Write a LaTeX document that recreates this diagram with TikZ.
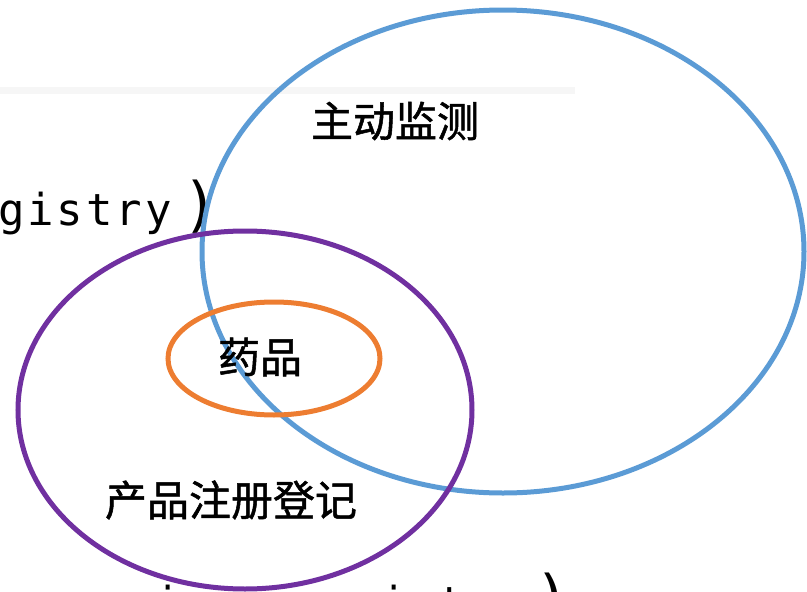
\documentclass[tikz,border=0pt]{standalone}
\usepackage{fontspec}
\usetikzlibrary{shapes.geometric}
\newfontfamily\cjk[FakeBold=1.2]{Noto Sans CJK SC}
\newfontfamily\bgmono[LetterSpace=6.6]{DejaVu Sans Mono}
\newfontfamily\bgparen{DejaVu Sans Mono}
\definecolor{ringblue}{HTML}{5B9BD5}
\definecolor{ringpurple}{HTML}{7030A0}
\definecolor{ringorange}{HTML}{ED7D31}
\tikzset{
  ring/.style={shape=ellipse, draw, line width=5pt, inner sep=0pt},
  cjklabel/.style={font=\cjk\fontsize{42}{42}\selectfont, inner sep=0pt},
  bgtext/.style={font=\bgmono\fontsize{44}{44}\selectfont, inner sep=0pt, anchor=base west},
  bgchar/.style={font=\bgmono\fontsize{44}{44}\selectfont, inner sep=0pt, anchor=base},
  bgbracket/.style={font=\bgparen\fontsize{60}{60}\selectfont, inner sep=0pt, anchor=base},
}
\begin{document}
\begin{tikzpicture}[x=1pt,y=-1pt]
\useasboundingbox (0,0) rectangle (807,592);
\clip (0,0) rectangle (807,592);
\fill[gray!7] (0,87) rectangle (575,94);
\node[bgtext] (bgtop) at (-2,225) {gistry};
\node[bgbracket] (bgtopparen) at (201,225) {)};
\node[bgchar] (bgbottomi) at (168,618) {i};
\node[bgtext] (bgbottom) at (380,618) {istry};
\node[bgbracket] (bgbottomparen) at (553,618) {)};
\node[ring, draw=ringblue, minimum width=602pt, minimum height=483pt] (active) at (503,251.5) {};
\node[ring, draw=ringorange, minimum width=212pt, minimum height=113pt] (drug) at (274,358.5) {};
\node[ring, draw=ringpurple, minimum width=454pt, minimum height=358pt] (registry) at (245,410) {};
\node[cjklabel] (activelabel) at (395,121) {主动监测};
\node[cjklabel] (druglabel) at (260,357) {药品};
\node[cjklabel] (registrylabel) at (231,500) {产品注册登记};
\end{tikzpicture}
\end{document}
